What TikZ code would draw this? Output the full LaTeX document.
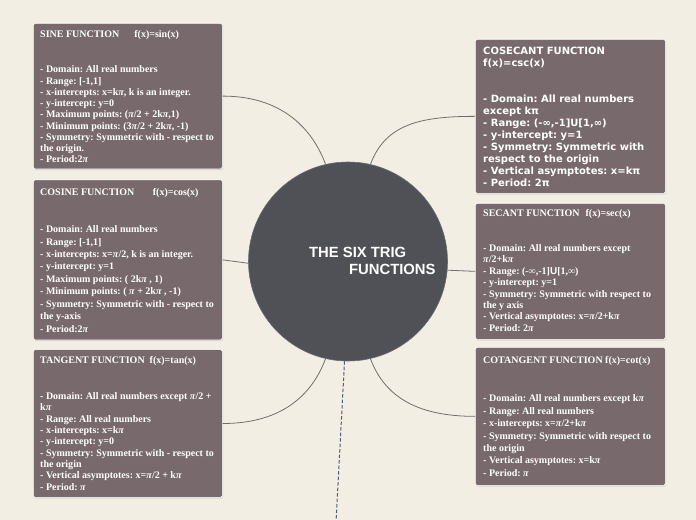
\documentclass[tikz,border=0pt]{standalone}
\usepackage{fontspec}
\setmainfont{Liberation Serif}
\newfontfamily\verdfont{DejaVu Sans}
\newfontfamily\arialfont{Liberation Sans}
\usepackage{tikz}
\usetikzlibrary{shadows}

\definecolor{paper}{HTML}{F3EEE4}
\definecolor{boxfill}{HTML}{786A6C}
\definecolor{hubfill}{HTML}{505157}
\definecolor{linkgray}{HTML}{6E6E6E}
\definecolor{dashblue}{HTML}{4F5D7A}
\newcommand{\ipi}{\textit{π}}
\frenchspacing

\begin{document}
\begin{tikzpicture}[x=1bp, y=-1bp,
  fbox/.style={draw=white, line width=0.7pt, fill=boxfill, rounded corners=1.5bp,
    minimum width=189bp, inner sep=0pt, anchor=north west,
    drop shadow={opacity=0.22, shadow xshift=0.8bp, shadow yshift=-1.2bp}},
  ftext/.style={text=white, align=left, anchor=north west, inner sep=0pt},
  serifbox/.style={ftext, font=\bfseries\fontsize{10bp}{#1}\selectfont},
  link/.style={draw=linkgray, line width=0.8pt},
  hub/.style={circle, fill=hubfill, draw=hubfill!85!white, line width=0.6pt,
    minimum size=199bp, inner sep=0pt}]
  \fill[paper] (0,0) rectangle (696,520);
  \useasboundingbox (0,0) rectangle (696,520);
  \node[hub] (hub) at (348,261.5) {};
  \node[text=white, anchor=west, inner sep=0pt, align=left,
    font=\arialfont\bfseries\fontsize{14.8bp}{17bp}\selectfont] (hubtext) at (309,260.5)
    {THE SIX TRIG\\\hspace*{40bp}FUNCTIONS};
  \node[fbox, minimum height=145.5bp] (sine) at (33,23) {};
  \node[fbox, minimum height=160bp] (cosine) at (33,179.5) {};
  \node[fbox, minimum height=147.7bp] (tangent) at (33,349.3) {};
  \node[fbox, minimum height=154bp, minimum width=190bp] (cosecant) at (475,39) {};
  \node[fbox, minimum height=136bp, minimum width=190bp] (secant) at (475,203) {};
  \node[fbox, minimum height=138bp, minimum width=190bp] (cotangent) at (475,347) {};
  \node[serifbox=11.25bp] (sinetext) at (40,30.4)
    {SINE FUNCTION\hspace{12.5bp} f(x)=sin(x)\\[24bp]
     - Domain: All real numbers\\
     - Range: [-1,1]\\
     - x-intercepts: x=k\ipi, k is an integer.\\
     - y-intercept: y=0\\
     - Maximum points: (\ipi/2 + 2k\ipi,1)\\
     - Minimum points: (3\ipi/2 + 2k\ipi, -1)\\
     - Symmetry: Symmetric with - respect to\\
     the origin.\\
     - Period:2\ipi};
  \node[serifbox=12.46bp] (cosinetext) at (40,188.4)
    {COSINE FUNCTION\hspace{16bp} f(x)=cos(x)\\[24.5bp]
     - Domain: All real numbers\\
     - Range: [-1,1]\\
     - x-intercepts: x=\ipi/2, k is an integer.\\
     - y-intercept: y=1\\
     - Maximum points: ( 2k\ipi\ , 1)\\
     - Minimum points: ( \ipi\ + 2k\ipi\ , -1)\\
     - Symmetry: Symmetric with - respect to\\
     the y-axis\\
     - Period:2\ipi};
  \node[serifbox=11.375bp] (tangenttext) at (40,356.4)
    {TANGENT FUNCTION\ \ f(x)=tan(x)\\[24.3bp]
     - Domain: All real numbers except \ipi/2 +\\
     k\ipi\\
     - Range: All real numbers\\
     - x-intercepts: x=k\ipi\\
     - y-intercept: y=0\\
     - Symmetry: Symmetric with - respect to\\
     the origin\\
     - Vertical asymptotes: x=\ipi/2 + k\ipi\\
     - Period: \ipi};
  \node[ftext, font=\verdfont\bfseries\fontsize{10bp}{12.04bp}\selectfont] (cosecanttext) at (483,46.4)
    {COSECANT FUNCTION\\
     f(x)=csc(x)\\[24bp]
     - Domain: All real numbers\\
     except kπ\\
     - Range: (-∞,-1]U[1,∞)\\
     - y-intercept: y=1\\
     - Symmetry: Symmetric with\\
     respect to the origin\\
     - Vertical asymptotes: x=kπ\\
     - Period: 2π};
  \node[serifbox=11.43bp] (secanttext) at (483,209.7)
    {SECANT FUNCTION\hspace{3.5bp} f(x)=sec(x)\\[23bp]
     - Domain: All real numbers except\\
     \ipi/2+k\ipi\\
     - Range: (-∞,-1]{\arialfont U}[1,∞)\\
     - y-intercept: y=1\\
     - Symmetry: Symmetric with respect to\\
     the y axis\\
     - Vertical asymptotes: x=\ipi/2+k\ipi\\
     - Period: 2\ipi};
  \node[serifbox=12.4bp] (cotangenttext) at (483,356.4)
    {COTANGENT FUNCTION f(x)=cot(x)\\[25.9bp]
     - Domain: All real numbers except k\ipi\\
     - Range: All real numbers\\
     - x-intercepts: x=\ipi/2+k\ipi\\
     - Symmetry: Symmetric with respect to\\
     the origin\\
     - Vertical asymptotes: x=k\ipi\\
     - Period: \ipi};
  \draw[link] (hub.103) .. controls +(-15,-40) and +(55,0) .. (sine.east);
  \draw[link] (hub.181) -- (cosine.east);
  \draw[link] (hub.-103) .. controls +(-15,40) and +(55,0) .. (tangent.east);
  \draw[link] (hub.77) .. controls +(15,-40) and +(-55,0) .. (cosecant.west);
  \draw[link] (hub.-5) -- (secant.west);
  \draw[link] (hub.-77) .. controls +(15,40) and +(-55,0) .. (cotangent.west);
  \coordinate (tail) at (336,522);
  \draw[dashblue, line width=1pt, dash pattern=on 3.5bp off 2bp] (hub.-92) -- (tail);
\end{tikzpicture}
\end{document}
